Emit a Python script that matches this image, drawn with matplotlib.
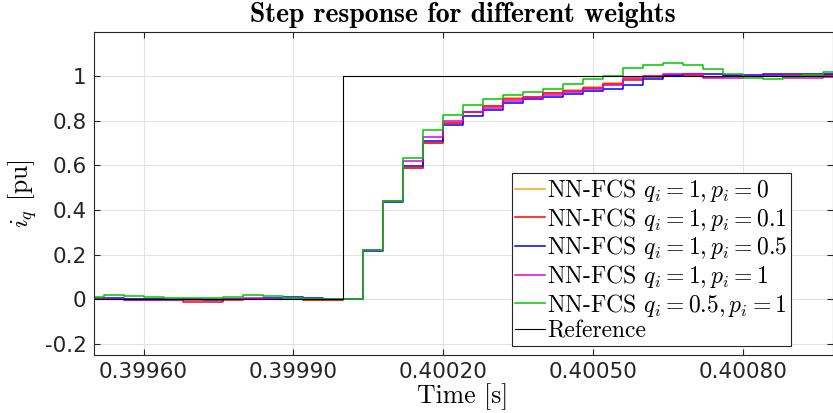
import numpy as np
import matplotlib
matplotlib.use('Agg')
import matplotlib.pyplot as plt
from matplotlib.ticker import FixedLocator, FuncFormatter

# sample start times (40 us steps)
t_start = 0.39948
Ts = 40e-6

# values for each 40 us interval
iq_q1_p0 = [0.002, 0.0, 0.003, 0.003, 0.003, 0.0, 0.003, 0.0, 0.0, 0.0, 0.0, -0.003, -0.002, 0.0,
            0.222, 0.442, 0.589, 0.703, 0.792, 0.842, 0.869, 0.901, 0.908, 0.927, 0.940, 0.952,
            0.968, 0.986, 1.000, 1.003, 1.000, 0.995, 1.000, 1.002, 1.004, 1.000, 1.003, 1.005]
iq_q1_p01 = [0.0, 0.0, -0.002, -0.002, -0.002, -0.010, -0.010, -0.003, 0.0, 0.002, 0.0, -0.003, -0.002, 0.0,
             0.222, 0.442, 0.587, 0.701, 0.790, 0.839, 0.866, 0.899, 0.906, 0.924, 0.936, 0.947,
             0.966, 0.984, 0.999, 1.004, 1.002, 0.996, 1.000, 1.000, 1.003, 1.002, 1.002, 1.006]
iq_q1_p05 = [0.005, 0.007, 0.003, 0.0, 0.0, 0.0, -0.002, 0.0, 0.003, 0.005, 0.010, 0.005, 0.0, 0.0,
             0.216, 0.435, 0.596, 0.712, 0.782, 0.824, 0.851, 0.881, 0.896, 0.906, 0.921, 0.932,
             0.944, 0.962, 0.989, 1.007, 1.011, 1.012, 1.008, 1.008, 1.011, 1.011, 1.011, 1.011]
iq_q1_p1 = [0.0, 0.0, -0.003, -0.005, -0.005, -0.005, -0.001, 0.0, 0.007, 0.003, 0.0, 0.0, 0.0, 0.0,
            0.222, 0.442, 0.619, 0.727, 0.798, 0.839, 0.860, 0.889, 0.903, 0.915, 0.928, 0.945,
            0.960, 0.992, 1.001, 1.011, 1.011, 0.993, 0.993, 1.000, 1.003, 0.993, 0.993, 0.996]
iq_q05_p1 = [0.010, 0.019, 0.015, 0.008, 0.005, 0.005, 0.007, 0.012, 0.018, 0.013, 0.005, 0.0, 0.0, 0.0,
             0.222, 0.442, 0.634, 0.757, 0.828, 0.873, 0.896, 0.917, 0.929, 0.941, 0.966, 0.988,
             1.002, 1.037, 1.052, 1.058, 1.052, 1.034, 1.010, 0.993, 0.986, 0.996, 1.008, 1.019]

t_ref = [0.39948, 0.40000, 0.40100]
iq_ref = [0.0, 1.0, 1.0]

labels = [r'NN-FCS $q_i = 1, p_i = 0$',
          r'NN-FCS $q_i = 1, p_i = 0.1$',
          r'NN-FCS $q_i = 1, p_i = 0.5$',
          r'NN-FCS $q_i = 1, p_i = 1$',
          r'NN-FCS $q_i = 0.5, p_i = 1$']
colors = ['#ff9f1a', '#ff0000', '#0000ff', '#e000e0', '#00c800']

xticks = [0.39960, 0.39990, 0.40020, 0.40050, 0.40080]
yticks = [-0.2, 0, 0.2, 0.4, 0.6, 0.8, 1]

plt.rcParams['mathtext.fontset'] = 'cm'
plt.rcParams['font.family'] = 'DejaVu Sans'
plt.rcParams['axes.unicode_minus'] = False

fig = plt.figure(figsize=(8.33, 4.13), dpi=100)
ax = fig.add_axes([0.1124, 0.1404, 0.8870, 0.7828])

series = [iq_q1_p0, iq_q1_p01, iq_q1_p05, iq_q1_p1, iq_q05_p1]
for vals, lab, col in zip(series, labels, colors):
    t = t_start + Ts * np.arange(len(vals) + 1)
    v = list(vals) + [vals[-1]]
    ax.step(t, v, where='post', color=col, lw=1.1, label=lab)
ax.step(t_ref, iq_ref, where='post', color='black', lw=0.8, label='Reference')

ax.set_xlim(0.39950, 0.40098)
ax.set_ylim(-0.25, 1.2)
ax.xaxis.set_major_locator(FixedLocator(xticks))
ax.yaxis.set_major_locator(FixedLocator(yticks))
ax.xaxis.set_major_formatter(FuncFormatter(lambda v, p: f'{v:.5f}'))
ax.yaxis.set_major_formatter(FuncFormatter(lambda v, p: f'{v:g}'))
ax.tick_params(direction='in', length=4, width=0.8, labelsize=15.5, colors='#262626',
               top=True, right=True, pad=5)
ax.grid(True, color='#e3e3e3', lw=0.8)
ax.set_axisbelow(True)
for s in ax.spines.values():
    s.set_color('#262626')
    s.set_linewidth(0.8)

ax.set_title('Step response for different weights', fontfamily='cmb10', fontsize=20, pad=7)
ax.set_xlabel('Time [s]', fontfamily='cmr10', fontsize=18.5, labelpad=1)
ax.set_ylabel(r'$i_q$ [pu]', fontfamily='cmr10', fontsize=18.5, labelpad=4)

leg = ax.legend(loc='lower right', bbox_to_anchor=(0.9435, 0.028), prop={'family': 'cmr10', 'size': 17},
                handlelength=1.25, handletextpad=0.1, borderpad=0.15, labelspacing=0.07,
                borderaxespad=0.0, fancybox=False, framealpha=1)
leg.get_frame().set_edgecolor('#262626')
leg.get_frame().set_linewidth(0.8)

fig.savefig('out.png', dpi=100)
